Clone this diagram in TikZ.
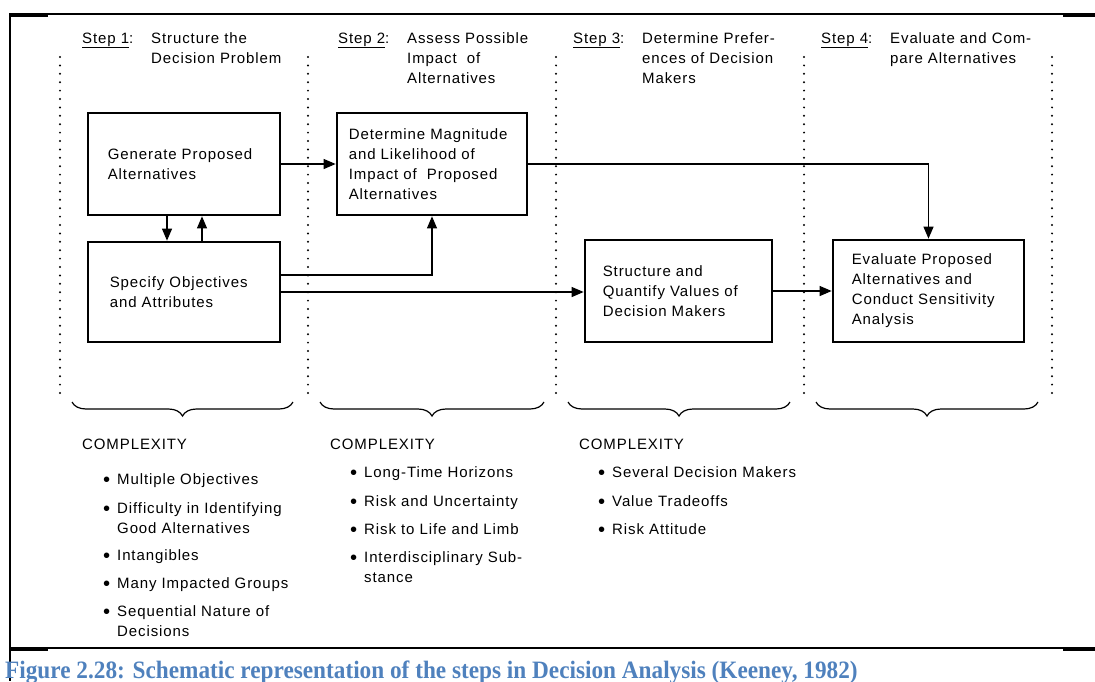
\documentclass[tikz,border=0pt]{standalone}
\usepackage{fontspec}
\setmainfont{Liberation Sans}[LetterSpace=6]
\newfontfamily\capfont{Liberation Serif}
\usetikzlibrary{arrows.meta,decorations.pathreplacing}
\definecolor{capblue}{HTML}{4F81BD}
\newcommand{\itemdot}{\llap{\raisebox{-2pt}{\scalebox{1.35}{•}}\hspace{7pt}}}

\begin{document}
\begin{tikzpicture}[x=1pt,y=-1pt]
\tikzset{
  box/.style={draw, line width=2.7pt, inner sep=0pt},
  txt/.style={font=\fontsize{15}{20}\selectfont, align=left, inner sep=0pt},
  link/.style={line width=1.1pt, -{Triangle[length=12pt,width=10pt]}},
  sep/.style={line width=2.2pt, line cap=round, dash pattern=on 0pt off 8.4pt},
  grp/.style={line width=1.2pt, decorate, decoration={brace, mirror, amplitude=14pt}},
  rule/.style={line width=1.3pt},
  thickrule/.style={line width=3pt},
}
\useasboundingbox (0,0) rectangle (1095,681);

% frame of the table cell
\draw[line width=2.5pt] (10,13) -- (10,681);
\draw[rule] (10,14) -- (1095,14);
\draw[thickrule] (10,15) -- (48,15);
\draw[thickrule] (1063,15) -- (1095,15);
\draw[rule] (10,648) -- (1095,648);
\draw[thickrule] (10,649) -- (48,649);
\draw[thickrule] (1063,649) -- (1095,649);

% column separators
\foreach \xx in {60,308,556,804,1052}
  \draw[sep] (\xx,57) -- (\xx,395);

% step headings (multi-line nodes are anchored at the baseline of their last line)
\node[txt, anchor=base west] (s1) at (82,43) {\underline{Step 1}:};
\node[txt, anchor=base west] (s1t) at (151,63) {Structure the\\Decision Problem};
\node[txt, anchor=base west] (s2) at (338,43) {\underline{Step 2}:};
\node[txt, anchor=base west] (s2t) at (407,83) {Assess Possible\\Impact\ \ of\\Alternatives};
\node[txt, anchor=base west] (s3) at (573,43) {\underline{Step 3}:};
\node[txt, anchor=base west] (s3t) at (642,83) {Determine Prefer-\\ences of Decision\\Makers};
\node[txt, anchor=base west] (s4) at (821,43) {\underline{Step 4}:};
\node[txt, anchor=base west] (s4t) at (890,63) {Evaluate and Com-\\pare Alternatives};

% process boxes
\node[box, minimum width=192pt, minimum height=102pt] (gen) at (184,164) {};
\node[txt, anchor=west] (genT) at ([xshift=21pt]gen.west) {Generate Proposed\\Alternatives};
\node[box, minimum width=192pt, minimum height=100pt] (spec) at (184,292) {};
\node[txt, anchor=west] (specT) at ([xshift=23pt]spec.west) {Specify Objectives\\and Attributes};
\node[box, minimum width=190pt, minimum height=102pt] (mag) at (432,164) {};
\node[txt, anchor=west] (magT) at ([xshift=13pt]mag.west) {Determine Magnitude\\and Likelihood of\\Impact of\ \ Proposed\\Alternatives};
\node[box, minimum width=187pt, minimum height=102pt] (val) at (678.5,291) {};
\node[txt, anchor=west] (valT) at ([xshift=19pt]val.west) {Structure and\\Quantify Values of\\Decision Makers};
\node[box, minimum width=191pt, minimum height=102pt] (eva) at (928.5,291) {};
\node[txt, anchor=west] (evaT) at ([xshift=20pt]eva.west) {Evaluate Proposed\\Alternatives and\\Conduct Sensitivity\\Analysis};

% connectors
\draw[link] (gen.east) -- (mag.west);
\draw[link] ([xshift=-17pt]gen.south) -- ([xshift=-17pt]spec.north);
\draw[link] ([xshift=18pt]spec.north) -- ([xshift=18pt]gen.south);
\draw[link] ([yshift=17pt]spec.east) -| (mag.south);
\draw[link] (spec.east) -- (spec.east -| val.west);
\draw[link] (val.east) -- (val.east -| eva.west);
\draw[link] (mag.east) -| (eva.north);

% braces under the columns
\draw[grp] (72,402) -- (293,402);
\draw[grp] (320,402) -- (544,402);
\draw[grp] (568,402) -- (790,402);
\draw[grp] (816,402) -- (1038,402);

% complexity lists
\node[txt, anchor=base west] (c1) at (82,449) {COMPLEXITY};
\node[txt, anchor=base west] (c1a) at (117,484) {\itemdot Multiple Objectives};
\node[txt, anchor=base west] (c1b) at (117,533) {\itemdot Difficulty in Identifying\\Good Alternatives};
\node[txt, anchor=base west] (c1c) at (117,560) {\itemdot Intangibles};
\node[txt, anchor=base west] (c1d) at (117,588) {\itemdot Many Impacted Groups};
\node[txt, anchor=base west] (c1e) at (117,636) {\itemdot Sequential Nature of\\Decisions};

\node[txt, anchor=base west] (c2) at (330,449) {COMPLEXITY};
\node[txt, anchor=base west] (c2a) at (364,477) {\itemdot Long-Time Horizons};
\node[txt, anchor=base west] (c2b) at (364,506) {\itemdot Risk and Uncertainty};
\node[txt, anchor=base west] (c2c) at (364,534) {\itemdot Risk to Life and Limb};
\node[txt, anchor=base west] (c2d) at (364,582) {\itemdot Interdisciplinary Sub-\\stance};

\node[txt, anchor=base west] (c3) at (579,449) {COMPLEXITY};
\node[txt, anchor=base west] (c3a) at (612,477) {\itemdot Several Decision Makers};
\node[txt, anchor=base west] (c3b) at (612,506) {\itemdot Value Tradeoffs};
\node[txt, anchor=base west] (c3c) at (612,534) {\itemdot Risk Attitude};

% caption
\node[anchor=base west, inner sep=0pt, text=capblue,
      font=\capfont\bfseries\fontsize{25}{30}\selectfont] (cap) at (5,678)
  {\scalebox{0.93}[1]{Figure 2.28: Schematic representation of the steps in Decision Analysis (Keeney, 1982)}};
\end{tikzpicture}
\end{document}
